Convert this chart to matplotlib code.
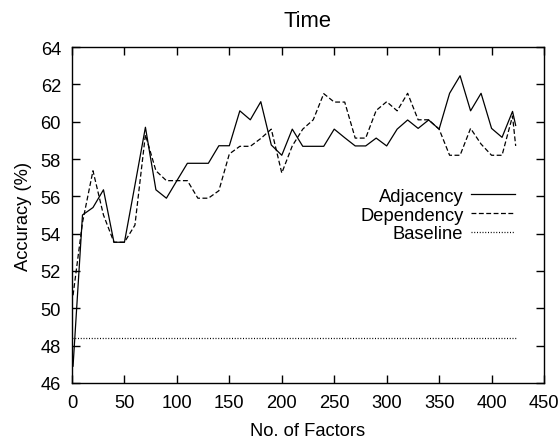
import matplotlib
matplotlib.use('Agg')
import matplotlib.pyplot as plt

plt.rcParams['font.family'] = ['Liberation Sans', 'DejaVu Sans']
plt.rcParams['font.size'] = 13.2

# number of factors
factors = [1, 10, 20, 30, 40, 50, 60, 70, 80, 90, 100, 110, 120, 130, 140, 150,
           160, 170, 180, 190, 200, 210, 220, 230, 240, 250, 260, 270, 280, 290,
           300, 310, 320, 330, 340, 350, 360, 370, 380, 390, 400, 410, 420, 423]

adjacency = [46.9, 55.0, 55.4, 56.35, 53.54, 53.54, 56.6, 59.7, 56.35, 55.9,
             56.84, 57.77, 57.77, 57.77, 58.71, 58.71, 60.58, 60.1, 61.07, 58.75,
             58.2, 59.6, 58.68, 58.68, 58.68, 59.6, 59.14, 58.7, 58.7, 59.12,
             58.7, 59.6, 60.09, 59.64, 60.09, 59.6, 61.52, 62.46, 60.58, 61.52,
             59.64, 59.16, 60.55, 59.8]

dependency = [50.7, 54.6, 57.37, 55.0, 53.54, 53.54, 54.46, 59.3, 57.37, 56.84,
              56.84, 56.84, 55.9, 55.9, 56.3, 58.27, 58.68, 58.68, 59.1, 59.6,
              57.25, 58.7, 59.6, 60.1, 61.5, 61.05, 61.05, 59.12, 59.12, 60.6,
              61.07, 60.58, 61.52, 60.1, 60.1, 59.6, 58.2, 58.2, 59.64, 58.8,
              58.2, 58.2, 60.3, 58.7]

baseline_x = [0, 423]
baseline_y = [48.41, 48.41]

fig = plt.figure(figsize=(5.6, 4.39), dpi=100)
ax = fig.add_axes([72 / 560, 1 - 384 / 439, 472 / 560, 336 / 439])

ax.plot(factors, adjacency, color='black', lw=0.9, label='Adjacency')
ax.plot(factors, dependency, color='black', lw=0.9, dashes=(3.9, 2.0), label='Dependency')
ax.plot(baseline_x, baseline_y, color='black', lw=0.9, dashes=(0.8, 1.4), label='Baseline')

ax.set_xlim(0, 450)
ax.set_ylim(46, 64)
ax.set_xticks(range(0, 451, 50))
ax.set_yticks(range(46, 65, 2))
ax.tick_params(direction='in', length=6, width=1, top=True, right=True, pad=8)
for s in ax.spines.values():
    s.set_linewidth(1)

ax.set_title('Time', pad=15)
ax.set_xlabel('No. of Factors', labelpad=8)
ax.set_ylabel('Accuracy (%)', labelpad=6)

ax.legend(loc='center right', bbox_to_anchor=(0.938, 0.5), frameon=False,
          markerfirst=False, handlelength=2.4, handletextpad=0.4,
          labelspacing=0.1, borderpad=0, borderaxespad=0)

fig.savefig('out.png', dpi=100)
